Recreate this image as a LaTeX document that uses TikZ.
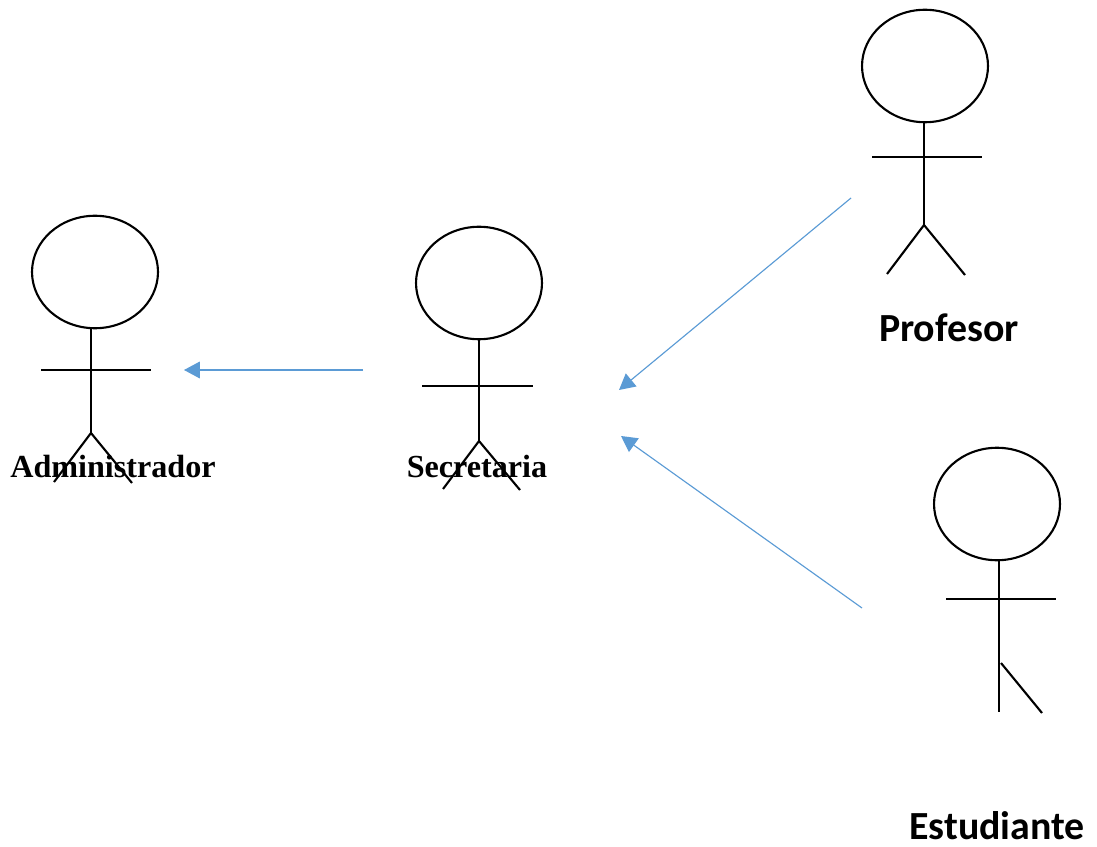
\documentclass[tikz,border=0pt]{standalone}
\usepackage{fontspec}
\setmainfont{Liberation Serif}
\newfontfamily\labelfont{Carlito}
\usetikzlibrary{arrows.meta}
\usetikzlibrary{shapes.geometric}
\definecolor{flecha}{RGB}{91,155,213}
\tikzset{
	cabeza/.style={draw,ellipse,inner sep=0pt,minimum width=2.52cm,minimum height=2.25cm},
	palo/.style={line width=1.2pt},
	flechita/.style={flecha,line width=0.65pt,-{Triangle[length=9pt,width=9.5pt]}},
	nombreA/.style={font=\fontsize{18.3}{22}\selectfont\bfseries,inner sep=0pt},
	nombreB/.style={font=\labelfont\fontsize{22.7}{27}\selectfont\bfseries,inner sep=0pt}
}
\begin{document}
\begin{tikzpicture}[x=0.02cm,y=-0.02cm]
\useasboundingbox (0,0) rectangle (1097,847);
%administrador
\begin{scope}[palo]
	\node[cabeza] (HA) at (95,272) {};
	\coordinate (CA) at (91,433);
	\coordinate (LA) at (54,482);
	\coordinate (RA) at (132,483);
	\coordinate (BA1) at (41,370);
	\coordinate (BA2) at (151,370);
	\draw (91,328)--(CA);
	\draw (BA1)--(BA2);
	\draw (LA)--(CA)--(RA);
\end{scope}
%secretaria
\begin{scope}[palo]
	\node[cabeza] (HS) at (479,283) {};
	\coordinate (CS) at (479,441);
	\coordinate (LS) at (443,489);
	\coordinate (RS) at (520,490);
	\coordinate (BS1) at (422,386);
	\coordinate (BS2) at (533,386);
	\draw (HS.south)--(CS);
	\draw (BS1)--(BS2);
	\draw (LS)--(CS)--(RS);
\end{scope}
%profesor
\begin{scope}[palo]
	\node[cabeza] (HP) at (925,66) {};
	\coordinate (CP) at (924,225);
	\coordinate (LP) at (887,274);
	\coordinate (RP) at (965,275);
	\coordinate (BP1) at (872,157);
	\coordinate (BP2) at (982,157);
	\draw (924,122)--(CP);
	\draw (BP1)--(BP2);
	\draw (LP)--(CP)--(RP);
\end{scope}
%estudiante
\begin{scope}[palo]
	\node[cabeza] (HE) at (997,504) {};
	\coordinate (CE) at (999,712);
	\coordinate (LE) at (1001,663);
	\coordinate (RE) at (1042,713);
	\coordinate (BE1) at (946,599);
	\coordinate (BE2) at (1056,599);
	\draw (999,560)--(CE);
	\draw (BE1)--(BE2);
	\draw (LE)--(RE);
\end{scope}
%flechas
\coordinate (F1a) at (363,370);
\coordinate (F1b) at (184,370);
\coordinate (F2a) at (851,198);
\coordinate (F2b) at (619,390);
\coordinate (F3a) at (862,608);
\coordinate (F3b) at (621,436);
\draw[flechita] (F1a)--(F1b);
\draw[flechita] (F2a)--(F2b);
\draw[flechita] (F3a)--(F3b);
%nombres
\node[nombreA] (adm) at (113,466) {Administrador};
\node[nombreA] (sec) at (477,466) {Secretaria};
\node[nombreB] (pro) at (949,328) {Profesor};
\node[nombreB] (est) at (997,826) {Estudiante};
\end{tikzpicture}
\end{document}
